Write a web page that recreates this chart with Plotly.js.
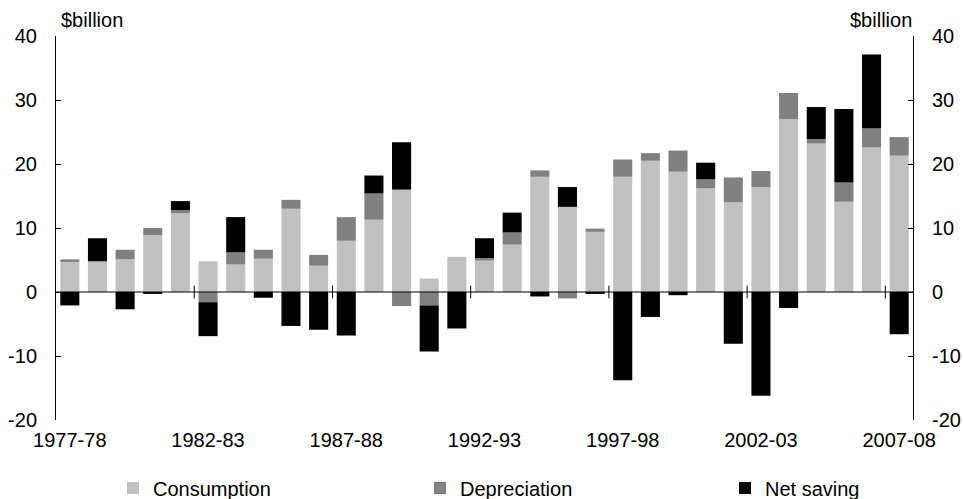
<!DOCTYPE html>
<html>
<head>
<meta charset="utf-8">
<script src="https://cdn.plot.ly/plotly-3.0.1.min.js"></script>
<style>html,body{margin:0;padding:0;background:#fff;}#chart{width:963px;height:499px;}</style>
</head>
<body>
<div id="chart"></div>
<script>
const years = ["1977-78","1978-79","1979-80","1980-81","1981-82","1982-83","1983-84","1984-85","1985-86","1986-87",
  "1987-88","1988-89","1989-90","1990-91","1991-92","1992-93","1993-94","1994-95","1995-96","1996-97",
  "1997-98","1998-99","1999-00","2000-01","2001-02","2002-03","2003-04","2004-05","2005-06","2006-07","2007-08"];
const consumption = [4.7, 4.8, 5.1, 8.9, 12.3, 4.8, 4.3, 5.2, 13.0, 4.1, 8.0, 11.3, 16.0, 2.1, 5.5, 4.9, 7.4, 18.0, 13.3, 9.4,
  18.0, 20.5, 18.8, 16.2, 14.0, 16.4, 27.0, 23.2, 14.1, 22.6, 21.3];
const depreciation = [0.4, 0.0, 1.5, 1.1, 0.5, -1.6, 1.9, 1.4, 1.4, 1.7, 3.7, 4.1, -2.2, -2.1, 0.0, 0.4, 1.9, 1.0, -1.0, 0.5,
  2.7, 1.2, 3.3, 1.4, 3.9, 2.5, 4.1, 0.7, 3.0, 3.0, 2.9];
const netSaving = [-2.1, 3.6, -2.7, -0.3, 1.4, -5.3, 5.5, -0.9, -5.3, -5.9, -6.8, 2.8, 7.4, -7.2, -5.7, 3.1, 3.1, -0.7, 3.1, -0.3,
  -13.8, -3.9, -0.5, 2.6, -8.1, -16.2, -2.5, 5.0, 11.5, 11.5, -6.6];
const tickLabels = ["1977-78","1982-83","1987-88","1992-93","1997-98","2002-03","2007-08"];
const yTicks = [-20, -10, 0, 10, 20, 30, 40];
const yTickText = ["-20", "-10", "0", "10", "20", "30", "40"];
const unitLabel = "$billion";

const FONT = "Arial, 'Liberation Sans', sans-serif";
const FS = 20;

const traces = [
  {type:"bar", name:"Consumption", x:years, y:consumption, marker:{color:"#c0c0c0", line:{width:0}}, legend:"legend"},
  {type:"bar", name:"Depreciation", x:years, y:depreciation, marker:{color:"#808080", line:{width:0}}, legend:"legend2"},
  {type:"bar", name:"Net saving", x:years, y:netSaving, marker:{color:"#000000", line:{width:0}}, legend:"legend3"},
  {type:"scatter", x:[], y:[], yaxis:"y2", showlegend:false, hoverinfo:"skip"}
];

// small tick marks on the zero line between every fifth category
const shapes = [];
tickLabels.slice(1).forEach(lbl => {
  const idx = years.indexOf(lbl) - 0.5;
  shapes.push({type:"line", xref:"x", yref:"y", x0:idx, x1:idx, y0:-1, y1:1, line:{color:"#000", width:1}, layer:"above"});
});
shapes.push({type:"line", xref:"paper", yref:"y", x0:0, x1:1, y0:0, y1:0, line:{color:"#000", width:1}, layer:"above"});

const legendBase = {orientation:"h", xref:"paper", yref:"paper", yanchor:"middle", xanchor:"left", y:-0.177,
  font:{family:FONT, size:FS, color:"#000"}, bgcolor:"rgba(0,0,0,0)", borderwidth:0,
  itemclick:false, itemdoubleclick:false};

const yAxisCommon = {
  range:[-20, 40], tickvals:yTicks, ticktext:yTickText, ticks:"inside", ticklen:5, tickcolor:"#000", tickwidth:1,
  showline:true, linecolor:"#000", linewidth:1, showgrid:false, zeroline:false,
  tickfont:{family:FONT, size:FS, color:"#000"}, fixedrange:true, automargin:false
};

const layout = {
  width:963, height:499,
  margin:{l:56, r:50, t:36, b:79, pad:0, autoexpand:false},
  paper_bgcolor:"#fff", plot_bgcolor:"#fff",
  font:{family:FONT, size:FS, color:"#000"},
  barmode:"relative", bargap:0.31,
  showlegend:true,
  xaxis:{type:"category", range:[-0.5, years.length - 0.5], tickvals:tickLabels, ticktext:tickLabels,
    ticks:"", showline:false, showgrid:false, zeroline:false, tickangle:0, automargin:false,
    tickfont:{family:FONT, size:FS, color:"#000"}, ticklabelstandoff:6, fixedrange:true},
  yaxis:Object.assign({}, yAxisCommon, {side:"left", ticklabelstandoff:14}),
  yaxis2:Object.assign({}, yAxisCommon, {side:"right", overlaying:"y", ticklabelstandoff:14}),
  legend:Object.assign({}, legendBase, {x:(113 - 56) / 857}),
  legend2:Object.assign({}, legendBase, {x:(420 - 56) / 857}),
  legend3:Object.assign({}, legendBase, {x:(725 - 56) / 857}),
  shapes:shapes,
  annotations:[
    {text:unitLabel, xref:"paper", yref:"paper", x:0.0035, y:1.0417, xanchor:"left", yanchor:"middle", showarrow:false, font:{family:FONT, size:FS, color:"#000"}},
    {text:unitLabel, xref:"paper", yref:"paper", x:1.0012, y:1.0417, xanchor:"right", yanchor:"middle", showarrow:false, font:{family:FONT, size:FS, color:"#000"}}
  ]
};

Plotly.newPlot("chart", traces, layout, {displayModeBar:false, staticPlot:true});
</script>
</body>
</html>
